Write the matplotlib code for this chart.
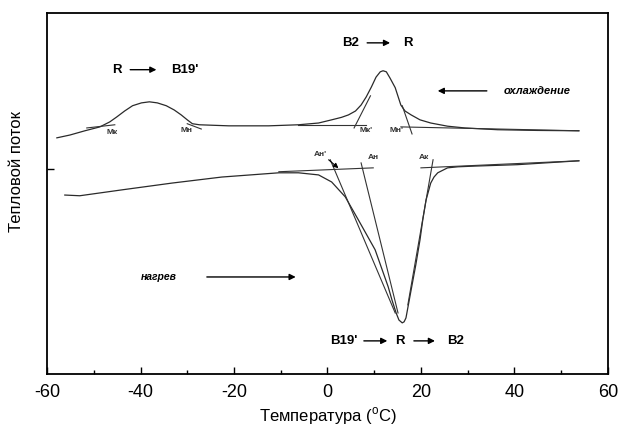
import matplotlib.pyplot as plt

plt.rcParams['font.family'] = ['Liberation Sans', 'DejaVu Sans']
plt.rcParams['axes.unicode_minus'] = False

# cooling run (upper trace): temperature, heat flow (arb. units)
cool_t = [-57.9, -55.1, -51.9, -48.7, -46.6, -45.1, -43.4, -41.7, -39.8, -38.1,
          -36.4, -34.5, -32.8, -31.3, -30.0, -28.9, -27.4, -21.1, -12.6, -6.2,
          -1.9, 0.9, 3.0, 4.5, 6.0, 7.2, 8.3, 9.4, 10.4, 11.3, 11.9, 12.6, 13.4,
          14.5, 15.7, 16.6, 17.9, 19.8, 22.1, 25.7, 29.4, 36.4, 44.9, 53.8]
cool_q = [64.6, 65.4, 66.6, 67.7, 69.1, 70.5, 72.2, 73.7, 74.5, 74.8,
          74.5, 73.7, 72.5, 71.1, 69.7, 68.6, 68.3, 68.0, 68.0, 68.3,
          68.8, 69.7, 70.4, 71.1, 72.2, 73.9, 76.2, 79.0, 81.8, 83.3, 83.6, 83.3, 81.5,
          78.8, 73.9, 72.2, 71.1, 69.7, 68.8, 67.9, 67.4, 66.9, 66.7, 66.6]

# heating run (lower trace)
heat_t = [-56.2, -53.0, -43.8, -33.2, -22.6, -10.4, -6.2, -1.9, 0.9, 3.8,
          6.6, 10.2, 13.0, 13.8, 14.7, 15.3, 16.0, 16.4, 16.8, 17.9, 18.9, 19.8,
          20.4, 21.1, 22.1, 22.8, 23.6, 25.7, 27.9, 31.5, 40.6, 53.8]
heat_q = [48.4, 48.2, 49.9, 51.8, 53.5, 54.7, 54.7, 54.1, 52.1, 47.9,
          41.4, 32.9, 22.4, 18.7, 15.0, 13.0, 12.2, 12.5, 13.6, 21.5, 28.6, 35.7,
          41.4, 47.0, 51.8, 53.5, 54.7, 56.1, 56.4, 56.6, 57.0, 58.1]

# tangent / baseline construction lines: ((t0, t1), (q0, q1))
construction = [
    ((-51.5, -45.5), (67.4, 68.3)),   # Мк
    ((-30.0, -27.0), (68.6, 67.1)),   # Мн
    ((-6.2, 8.3), (68.3, 68.3)),      # baseline before B2->R
    ((5.7, 9.2), (67.4, 76.5)),       # Мк'
    ((18.1, 16.0), (65.7, 73.7)),     # Мн'
    ((15.7, 53.8), (67.7, 66.6)),     # baseline after B2->R
    ((-10.4, 9.8), (55.0, 56.1)),     # heating baseline, left
    ((0.6, 14.5), (58.4, 15.0)),      # Ан'
    ((7.2, 15.1), (57.5, 15.0)),      # Ан
    ((22.6, 17.2), (58.4, 17.3)),     # Ак
    ((20.0, 53.8), (56.1, 58.1)),     # heating baseline, right
]

point_labels = ["Мк", "Мн", "Мк'", "Мн'", "Ан'", "Ан", "Ак"]
point_t = [-46.0, -30.2, 8.3, 14.7, -1.5, 9.8, 20.6]
point_q = [66.0, 66.6, 66.6, 66.6, 59.8, 58.9, 58.9]

fig = plt.figure(figsize=(6.19, 4.28), dpi=100)
ax = fig.add_axes([0.076, 0.126, 0.906, 0.844])

line_kw = dict(color='#2a2a2a', lw=0.9)
ax.plot(cool_t, cool_q, **line_kw)
ax.plot(heat_t, heat_q, **line_kw)
for (tt, qq) in construction:
    ax.plot(tt, qq, color='#333333', lw=0.8)

for lab, t, q in zip(point_labels, point_t, point_q):
    ax.text(t, q, lab, fontsize=6, fontweight='bold', ha='center', va='center',
            color='#333333')

# small arrow pointing at Ан'
ax.annotate('', xy=(2.8, 55.5), xytext=(-0.2, 58.9),
            arrowprops=dict(arrowstyle='-|>', color='black', lw=0.8,
                            mutation_scale=7))


def arrow(t0, t1, q):
    ax.annotate('', xy=(t1, q), xytext=(t0, q),
                arrowprops=dict(arrowstyle='-|>', color='black', lw=1.0,
                                mutation_scale=9))


bold = dict(fontsize=9.5, fontweight='bold', ha='center', va='center')

# R -> B19'
ax.text(-45.1, 83.9, 'R', **bold)
arrow(-42.8, -36.0, 83.9)
ax.text(-30.6, 83.9, "B19'", **bold)

# B2 -> R
ax.text(4.9, 91.5, 'B2', **bold)
arrow(7.9, 14.0, 91.5)
ax.text(17.2, 91.5, 'R', **bold)

# B19' -> R -> B2
ax.text(3.4, 7.1, "B19'", **bold)
arrow(7.2, 13.4, 7.1)
ax.text(15.5, 7.1, 'R', **bold)
arrow(17.9, 23.6, 7.1)
ax.text(27.4, 7.1, 'B2', **bold)

# run direction
ax.text(44.9, 77.9, 'охлаждение', fontsize=8, fontweight='bold', style='italic',
        ha='center', va='center')
arrow(34.7, 23.0, 77.9)
ax.text(-36.2, 25.2, 'нагрев', fontsize=7.5, fontweight='bold', style='italic',
        ha='center', va='center')
arrow(-26.4, -6.2, 25.2)

ax.set_xlim(-60, 60)
ax.set_ylim(-2.3, 100)
ax.set_xticks(range(-60, 61, 20))
ax.set_xticks(range(-50, 60, 20), minor=True)
ax.set_yticks([55.8])
ax.set_yticklabels([])
ax.tick_params(axis='both', which='major', direction='in', length=5, width=1.0,
               labelsize=13, pad=7)
ax.tick_params(axis='x', which='minor', direction='in', length=3, width=1.0)
for s in ax.spines.values():
    s.set_linewidth(1.3)

ax.set_xlabel('Температура ($^\\mathregular{o}$C)', fontsize=12, labelpad=3)
fig.text(17 / 619, 1 - 172 / 428, 'Тепловой поток', rotation=90, fontsize=12,
         ha='center', va='center')

fig.savefig('out.png', dpi=100)
